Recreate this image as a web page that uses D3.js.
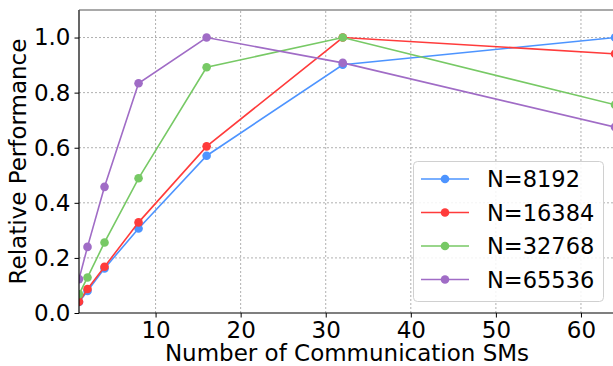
<!DOCTYPE html>
<html>
<head>
<meta charset="utf-8">
<script src="https://cdn.jsdelivr.net/npm/d3@7"></script>
<style>
  body { margin: 0; background: #fff; }
  svg { display: block; font-family: "DejaVu Sans", sans-serif; }
</style>
</head>
<body>
<div id="chart"></div>
<script>
// nombre de SMs de communication
const sms = [1, 2, 4, 8, 16, 32, 64];

const perf8192 = [0.04, 0.08, 0.162, 0.307, 0.571, 0.901, 1.0];
const perf16384 = [0.041, 0.087, 0.168, 0.329, 0.605, 1.0, 0.941];
const perf32768 = [0.068, 0.129, 0.256, 0.489, 0.892, 1.0, 0.756];
const perf65536 = [0.123, 0.24, 0.458, 0.834, 1.0, 0.908, 0.675];

const seriesNames = ["N=8192", "N=16384", "N=32768", "N=65536"];
const seriesColors = ["#4d94ff", "#ff3b3b", "#77c965", "#a06cc6"];

const xTicks = [10, 20, 30, 40, 50, 60];
const yTicks = [0, 0.2, 0.4, 0.6, 0.8, 1.0];

const W = 613, H = 366;
const margin = {top: 10, right: -2, bottom: 53, left: 79};

const svg = d3.select("#chart").append("svg")
  .attr("width", W).attr("height", H);

const x = d3.scaleLinear().domain([1, 64]).range([margin.left, W - margin.right]);
const y = d3.scaleLinear().domain([0, 1.1]).range([H - margin.bottom, margin.top]);

svg.append("clipPath").attr("id", "clip")
  .append("rect")
  .attr("x", margin.left).attr("y", margin.top)
  .attr("width", x(64) - margin.left).attr("height", y(0) - margin.top);

// grille
const grid = svg.append("g");
grid.selectAll("line.gx").data(xTicks).enter().append("line")
  .attr("x1", d => x(d)).attr("x2", d => x(d))
  .attr("y1", y(0)).attr("y2", y(1.1))
  .attr("stroke", "#b0b0b0").attr("stroke-width", 1).attr("stroke-dasharray", "2,2");
grid.selectAll("line.gy").data(yTicks.filter(d => d > 0)).enter().append("line")
  .attr("x1", x(1)).attr("x2", x(64))
  .attr("y1", d => y(d)).attr("y2", d => y(d))
  .attr("stroke", "#b0b0b0").attr("stroke-width", 1).attr("stroke-dasharray", "2,2");

// courbes
const allSeries = [perf8192, perf16384, perf32768, perf65536];
const line = d3.line().x((d, i) => x(sms[i])).y(d => y(d));
const plot = svg.append("g").attr("clip-path", "url(#clip)");

allSeries.forEach((vals, k) => {
  plot.append("path")
    .attr("d", line(vals))
    .attr("fill", "none")
    .attr("stroke", seriesColors[k])
    .attr("stroke-width", 1.6);
  plot.selectAll(null).data(vals).enter().append("circle")
    .attr("cx", (d, i) => x(sms[i]))
    .attr("cy", d => y(d))
    .attr("r", 4.3)
    .attr("fill", seriesColors[k]);
});

// axes
const xAxis = svg.append("g")
  .attr("transform", "translate(0," + y(0) + ")")
  .call(d3.axisBottom(x).tickValues(xTicks).tickSize(4.5).tickPadding(4));
const yAxis = svg.append("g")
  .attr("transform", "translate(" + x(1) + ",0)")
  .call(d3.axisLeft(y).tickValues(yTicks).tickFormat(d3.format(".1f")).tickSize(4.5).tickPadding(4));

[xAxis, yAxis].forEach(a => {
  a.select(".domain").remove();
  a.selectAll("text").attr("font-size", 23).attr("fill", "#000").attr("font-family", "DejaVu Sans");
  a.selectAll("line").attr("stroke", "#000");
});

// bordures
svg.append("line").attr("x1", x(1)).attr("x2", x(1)).attr("y1", y(0)).attr("y2", y(1.1))
  .attr("stroke", "#000").attr("stroke-width", 1.2);
svg.append("line").attr("x1", x(1)).attr("x2", x(64)).attr("y1", y(0)).attr("y2", y(0))
  .attr("stroke", "#000").attr("stroke-width", 1.2);
svg.append("line").attr("x1", x(1)).attr("x2", x(64)).attr("y1", y(1.1)).attr("y2", y(1.1))
  .attr("stroke", "#555").attr("stroke-width", 1.2);

// titres des axes
svg.append("text")
  .attr("x", (x(1) + 613) / 2 + 1).attr("y", 360.5)
  .attr("text-anchor", "middle").attr("font-size", 23)
  .text("Number of Communication SMs");
svg.append("text")
  .attr("transform", "translate(26," + ((y(0) + y(1.1)) / 2) + ") rotate(-90)")
  .attr("text-anchor", "middle").attr("font-size", 23)
  .text("Relative Performance");

// légende
const leg = svg.append("g");
leg.append("rect")
  .attr("x", 413.5).attr("y", 161.5).attr("width", 190).attr("height", 140)
  .attr("rx", 4).attr("fill", "#fff").attr("fill-opacity", 0.85)
  .attr("stroke", "#d0d0d0").attr("stroke-width", 1);
seriesNames.forEach((name, k) => {
  const yy = 179 + k * 33.5;
  leg.append("line").attr("x1", 421).attr("x2", 469).attr("y1", yy).attr("y2", yy)
    .attr("stroke", seriesColors[k]).attr("stroke-width", 1.6);
  leg.append("circle").attr("cx", 445).attr("cy", yy).attr("r", 4.3).attr("fill", seriesColors[k]);
  leg.append("text").attr("x", 487).attr("y", yy + 8)
    .attr("font-size", 22.5).text(name);
});
</script>
</body>
</html>
